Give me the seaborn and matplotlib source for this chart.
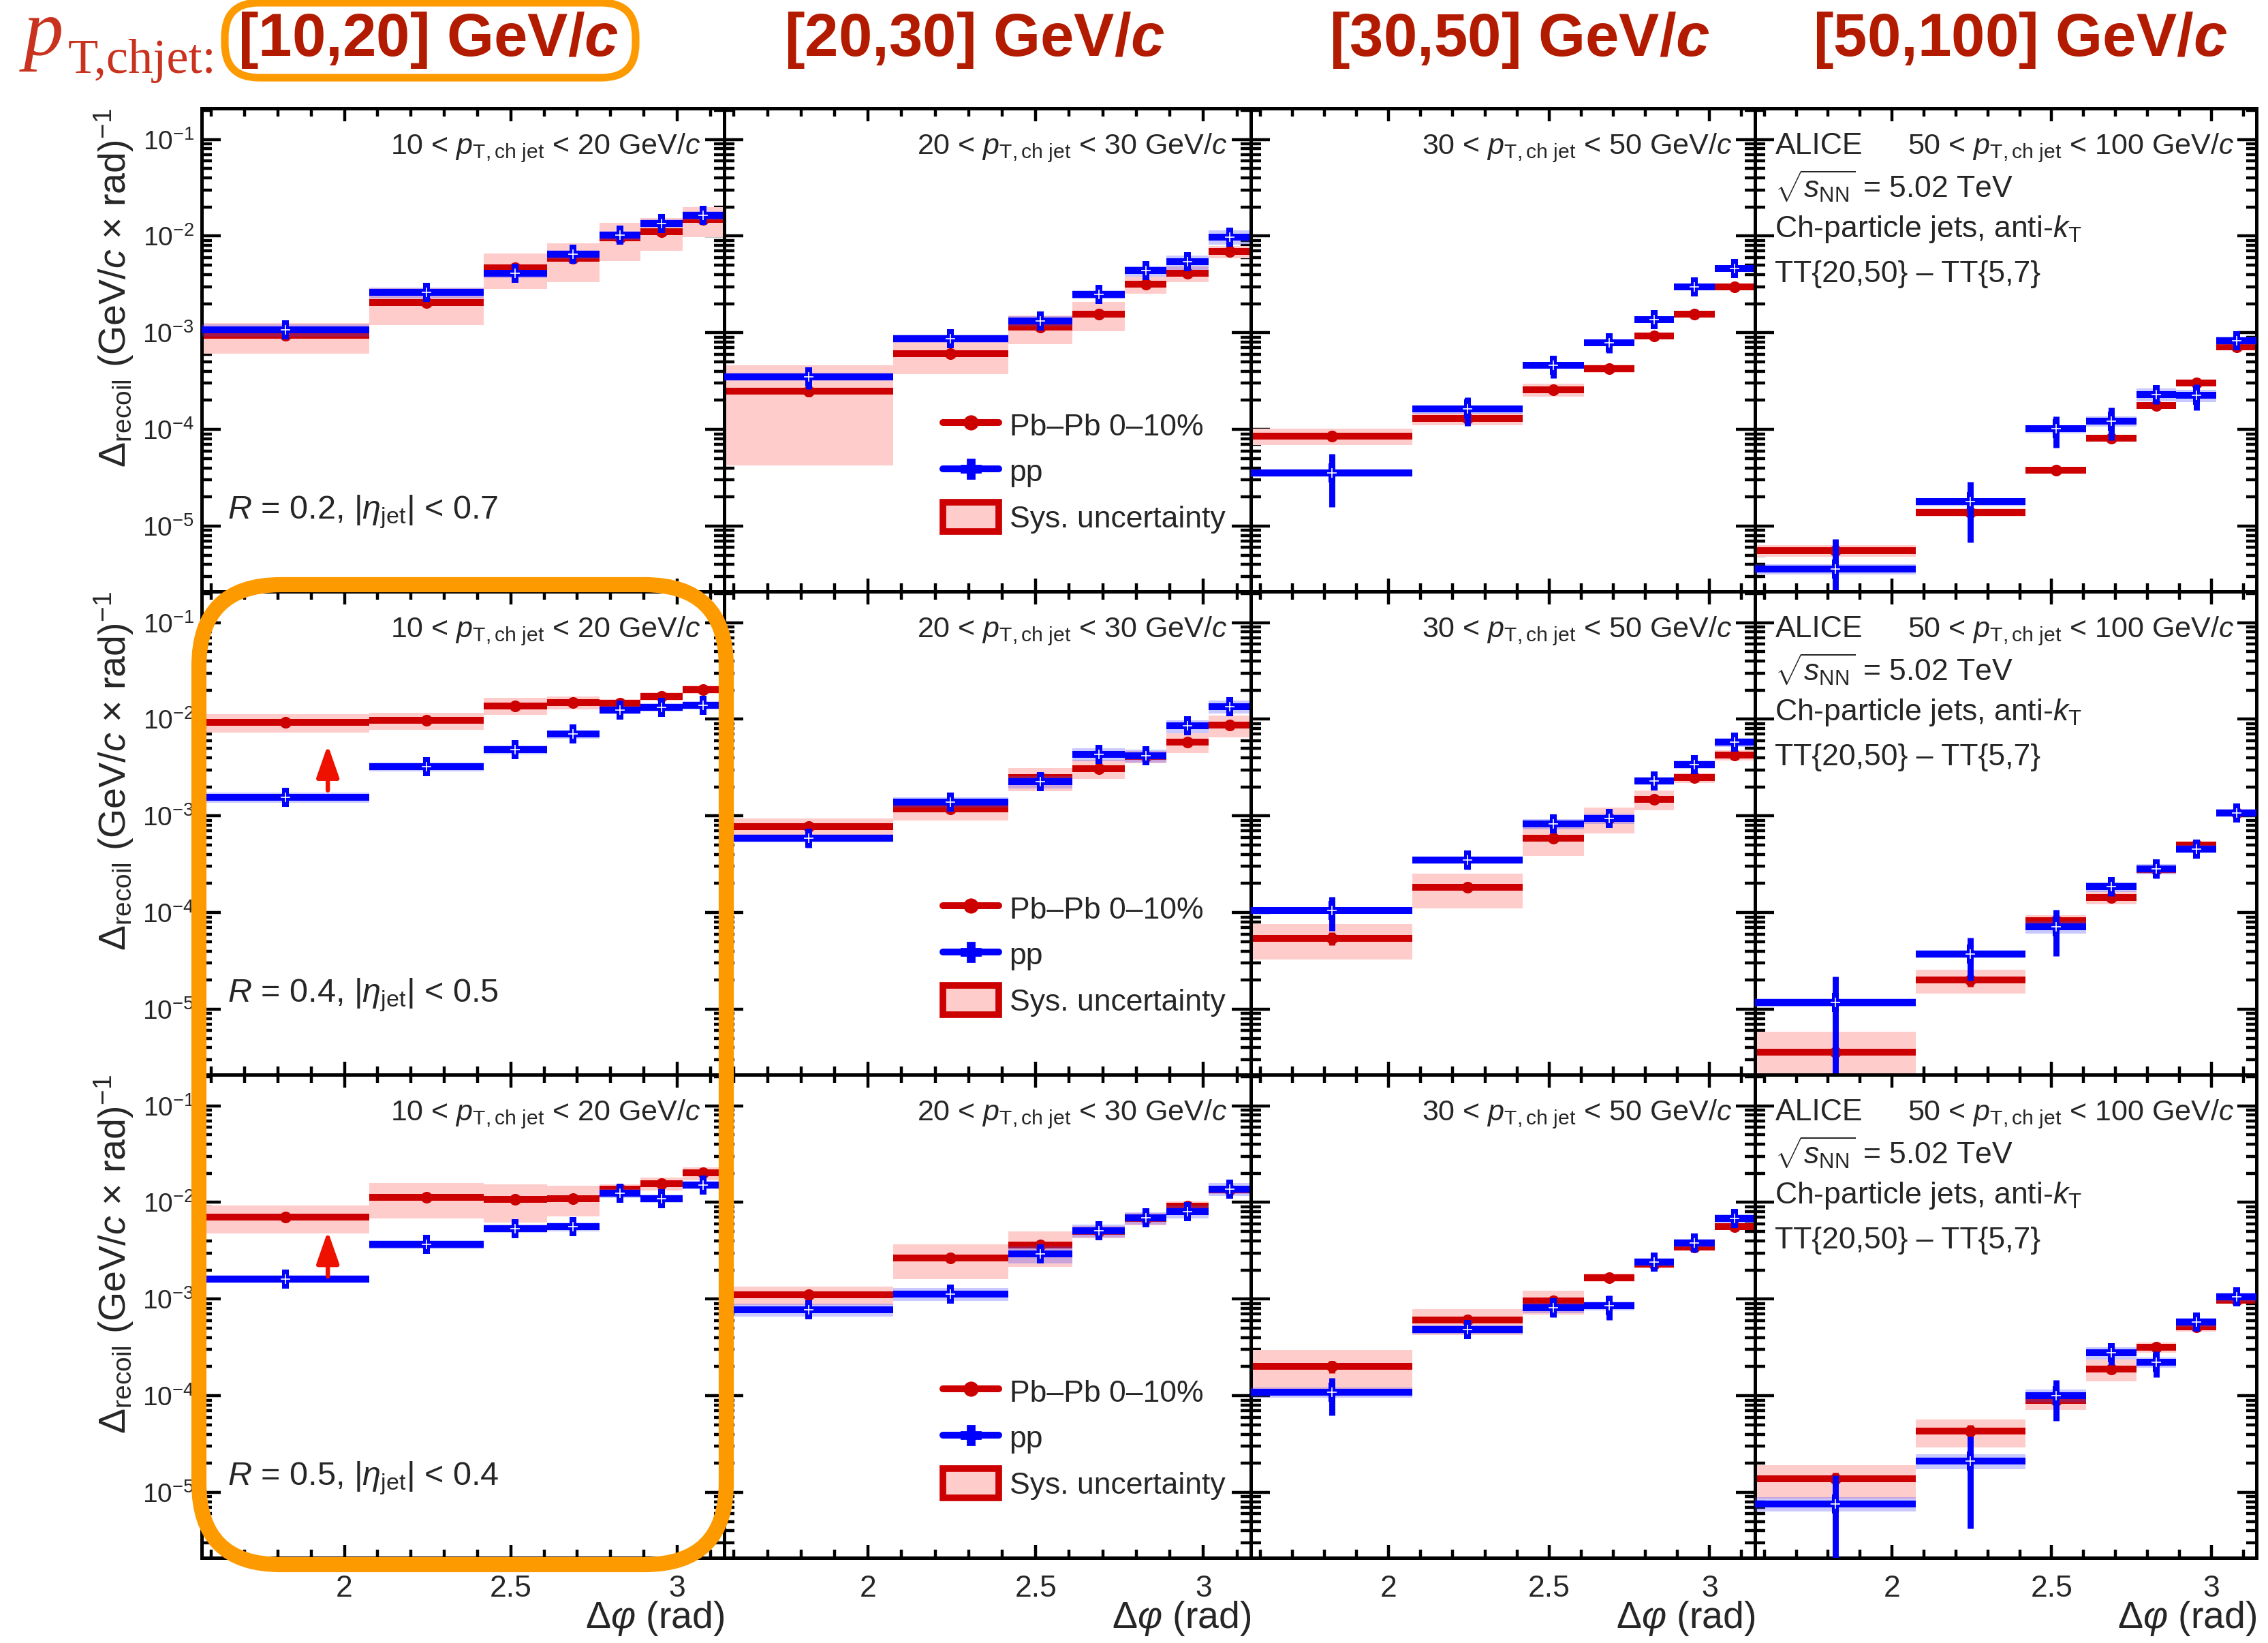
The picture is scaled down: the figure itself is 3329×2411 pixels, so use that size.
import numpy as np
import pandas as pd
import seaborn as sns
import matplotlib
matplotlib.use("Agg")
import matplotlib.pyplot as plt
from matplotlib.lines import Line2D
from matplotlib.patches import Patch, FancyBboxPatch
from matplotlib.ticker import MultipleLocator, LogLocator, NullFormatter, FuncFormatter

# ---- data ----
DPHI_EDGES = [np.pi / 2, 2.074, 2.418, 2.609, 2.766, 2.890, 3.016, np.pi]
PT_LO = [10, 20, 30, 50]
PT_HI = [20, 30, 50, 100]
HEADERS = ["[10,20] GeV/", "[20,30] GeV/", "[30,50] GeV/", "[50,100] GeV/"]
R_LABELS = [r"$R$ = 0.2, |$\eta_{\rm jet}$| < 0.7",
            r"$R$ = 0.4, |$\eta_{\rm jet}$| < 0.5",
            r"$R$ = 0.5, |$\eta_{\rm jet}$| < 0.4"]

# R = 0.2
pbpb_r02 = [[0.94e-3, 2.05e-3, 4.7e-3, 5.9e-3, 9.6e-3, 1.12e-2, 1.49e-2],
            [2.5e-4, 6.1e-4, 1.14e-3, 1.56e-3, 3.16e-3, 4.1e-3, 6.9e-3],
            [8.5e-5, 1.29e-4, 2.57e-4, 4.26e-4, 9.3e-4, 1.56e-3, 2.97e-3],
            [5.6e-6, 1.39e-5, 3.8e-5, 8.1e-5, 1.76e-4, 3.03e-4, 7.1e-4]]
pp_r02 = [[1.07e-3, 2.6e-3, 4.1e-3, 6.5e-3, 1.02e-2, 1.36e-2, 1.64e-2],
          [3.5e-4, 8.7e-4, 1.32e-3, 2.48e-3, 4.4e-3, 5.4e-3, 9.8e-3],
          [3.56e-5, 1.62e-4, 4.6e-4, 7.9e-4, 1.37e-3, 2.97e-3, 4.6e-3],
          [3.57e-6, 1.78e-5, 1.01e-4, 1.22e-4, 2.29e-4, 2.24e-4, 8.3e-4]]
pbpb_sys_r02 = [[0.35, 0.41, 0.40, 0.43, 0.42, 0.37, 0.34],
                [0.83, 0.39, 0.33, 0.33, 0.20, 0.19, 0.15],
                [0.19, 0.14, 0.15, 0.10, 0.08, 0.08, 0.06],
                [0.14, 0.10, 0.08, 0.08, 0.07, 0.07, 0.06]]
pp_sys_r02 = [[0.15, 0.13, 0.10, 0.10, 0.10, 0.10, 0.10],
              [0.10, 0.10, 0.12, 0.10, 0.13, 0.17, 0.17],
              [0.10, 0.10, 0.08, 0.08, 0.06, 0.06, 0.06],
              [0.12, 0.10, 0.10, 0.12, 0.15, 0.15, 0.10]]
pbpb_stat_r02 = [[0.08, 0.08, 0.08, 0.08, 0.06, 0.06, 0.05],
                 [0.12, 0.10, 0.08, 0.08, 0.06, 0.06, 0.05],
                 [0.10, 0.10, 0.08, 0.08, 0.06, 0.06, 0.05],
                 [0.12, 0.15, 0.10, 0.10, 0.08, 0.08, 0.06]]
pp_stat_r02 = [[0.10, 0.08, 0.10, 0.08, 0.08, 0.08, 0.08],
               [0.26, 0.17, 0.15, 0.10, 0.10, 0.10, 0.08],
               [0.56, 0.33, 0.26, 0.22, 0.15, 0.12, 0.10],
               [1.05, 0.62, 0.36, 0.37, 0.20, 0.30, 0.10]]

# R = 0.4
pbpb_r04 = [[9.3e-3, 9.7e-3, 1.38e-2, 1.49e-2, 1.46e-2, 1.73e-2, 2.04e-2],
            [7.8e-4, 1.19e-3, 2.48e-3, 3.1e-3, 4.1e-3, 5.85e-3, 8.7e-3],
            [5.4e-5, 1.82e-4, 5.9e-4, 9.4e-4, 1.49e-3, 2.48e-3, 4.28e-3],
            [3.6e-6, 2.0e-5, 8.2e-5, 1.43e-4, 2.8e-4, 4.97e-4, 1.08e-3]]
pp_r04 = [[1.55e-3, 3.22e-3, 4.85e-3, 7.0e-3, 1.25e-2, 1.33e-2, 1.40e-2],
          [5.9e-4, 1.38e-3, 2.25e-3, 4.35e-3, 4.2e-3, 8.5e-3, 1.36e-2],
          [1.05e-4, 3.47e-4, 8.3e-4, 9.4e-4, 2.3e-3, 3.42e-3, 5.77e-3],
          [1.17e-5, 3.72e-5, 7.1e-5, 1.86e-4, 2.84e-4, 4.55e-4, 1.08e-3]]
pbpb_sys_r04 = [[0.22, 0.20, 0.20, 0.15, 0.10, 0.10, 0.10],
                [0.20, 0.25, 0.27, 0.22, 0.15, 0.23, 0.25],
                [0.40, 0.39, 0.35, 0.30, 0.23, 0.12, 0.12],
                [0.63, 0.28, 0.15, 0.15, 0.10, 0.08, 0.08]]
pp_sys_r04 = [[0.12, 0.10, 0.10, 0.10, 0.10, 0.10, 0.10],
              [0.10, 0.12, 0.15, 0.15, 0.15, 0.15, 0.15],
              [0.08, 0.08, 0.12, 0.12, 0.10, 0.10, 0.10],
              [0.10, 0.10, 0.15, 0.12, 0.12, 0.10, 0.10]]
pbpb_stat_r04 = [[0.08, 0.08, 0.06, 0.06, 0.06, 0.05, 0.05],
                 [0.10, 0.10, 0.08, 0.08, 0.06, 0.06, 0.05],
                 [0.15, 0.10, 0.08, 0.08, 0.06, 0.06, 0.05],
                 [0.20, 0.15, 0.10, 0.10, 0.08, 0.06, 0.05]]
pp_stat_r04 = [[0.10, 0.10, 0.10, 0.08, 0.10, 0.10, 0.10],
               [0.20, 0.12, 0.15, 0.12, 0.12, 0.10, 0.08],
               [0.385, 0.20, 0.12, 0.15, 0.10, 0.10, 0.08],
               [0.85, 0.47, 0.50, 0.20, 0.20, 0.10, 0.06]]

# R = 0.5
pbpb_r05 = [[7.06e-3, 1.13e-2, 1.08e-2, 1.10e-2, 1.38e-2, 1.57e-2, 2.01e-2],
            [1.11e-3, 2.65e-3, 3.6e-3, 5.0e-3, 6.8e-3, 9.2e-3, 1.35e-2],
            [2.0e-4, 6.1e-4, 9.6e-4, 1.67e-3, 2.3e-3, 3.47e-3, 5.64e-3],
            [1.38e-5, 4.3e-5, 8.9e-5, 1.88e-4, 3.18e-4, 5.16e-4, 9.75e-4]]
pp_r05 = [[1.61e-3, 3.68e-3, 5.36e-3, 5.6e-3, 1.24e-2, 1.10e-2, 1.52e-2],
          [7.8e-4, 1.13e-3, 2.94e-3, 5.1e-3, 6.9e-3, 8.07e-3, 1.37e-2],
          [1.08e-4, 4.87e-4, 8.1e-4, 8.5e-4, 2.43e-3, 3.83e-3, 6.8e-3],
          [7.6e-6, 2.11e-5, 1.0e-4, 2.78e-4, 2.22e-4, 5.78e-4, 1.05e-3]]
pbpb_sys_r05 = [[0.32, 0.40, 0.43, 0.35, 0.12, 0.15, 0.15],
                [0.22, 0.39, 0.40, 0.15, 0.15, 0.12, 0.10],
                [0.48, 0.30, 0.28, 0.10, 0.10, 0.08, 0.08],
                [0.38, 0.32, 0.20, 0.25, 0.12, 0.10, 0.08]]
pp_sys_r05 = [[0.10, 0.10, 0.10, 0.10, 0.10, 0.10, 0.10],
              [0.15, 0.15, 0.20, 0.15, 0.15, 0.15, 0.15],
              [0.12, 0.12, 0.12, 0.10, 0.10, 0.10, 0.10],
              [0.17, 0.18, 0.15, 0.15, 0.12, 0.10, 0.10]]
pbpb_stat_r05 = [[0.08, 0.08, 0.08, 0.08, 0.06, 0.06, 0.05],
                 [0.10, 0.08, 0.08, 0.08, 0.06, 0.06, 0.05],
                 [0.15, 0.10, 0.08, 0.08, 0.06, 0.06, 0.05],
                 [0.15, 0.15, 0.10, 0.10, 0.08, 0.06, 0.05]]
pp_stat_r05 = [[0.10, 0.10, 0.10, 0.10, 0.10, 0.10, 0.10],
               [0.17, 0.15, 0.15, 0.10, 0.10, 0.10, 0.08],
               [0.42, 0.20, 0.20, 0.29, 0.10, 0.10, 0.10],
               [0.96, 0.80, 0.45, 0.25, 0.30, 0.15, 0.10]]

# red arrows (lowest pT bin, R = 0.4 and 0.5)
ARROW_X = 1.95
ARROW_TAIL = [None, 1.84e-3, 1.71e-3]
ARROW_TIP = [None, 5.43e-3, 5.05e-3]

ROWS = [
    (pbpb_r02, pp_r02, pbpb_sys_r02, pp_sys_r02, pbpb_stat_r02, pp_stat_r02),
    (pbpb_r04, pp_r04, pbpb_sys_r04, pp_sys_r04, pbpb_stat_r04, pp_stat_r04),
    (pbpb_r05, pp_r05, pbpb_sys_r05, pp_sys_r05, pbpb_stat_r05, pp_stat_r05),
]

# ---- style ----
sns.set_theme(style="ticks")
plt.rcParams["font.family"] = ["Liberation Sans", "DejaVu Sans"]
plt.rcParams["mathtext.fontset"] = "custom"
plt.rcParams["mathtext.rm"] = "Liberation Sans"
plt.rcParams["mathtext.it"] = "Liberation Sans:italic"
plt.rcParams["mathtext.bf"] = "Liberation Sans:bold"
plt.rcParams["mathtext.bfit"] = "Liberation Sans:italic:bold"
plt.rcParams["axes.unicode_minus"] = True

RED = "#cc0000"
BLUE = "#0000ff"
PINK = "#ffcccc"
PP_BAND = (0.3, 0.3, 1.0, 0.3)
ORANGE = "#fd9a00"
HEAD_RED = "#b31b00"

fig = plt.figure(figsize=(16.65, 12.055), dpi=200)
gs = fig.add_gridspec(3, 4, left=296 / 3330, right=3312 / 3330,
                      top=1 - 159 / 2411, bottom=1 - 2286 / 2411,
                      wspace=0, hspace=0, width_ratios=[767, 773, 740, 736])

lo = np.array(DPHI_EDGES[:-1])
hi = np.array(DPHI_EDGES[1:])
xc = (lo + hi) / 2
wid = hi - lo


def draw_series(ax, vals, sys, stat, color, band, z, marker):
    vals = np.array(vals)
    sys = np.array(sys)
    stat = np.array(stat)
    blo = np.clip(vals * (1 - sys), 1e-8, None)
    ax.bar(xc, vals * (1 + sys) - blo, bottom=blo, width=wid, color=band,
           linewidth=0, zorder=z)
    ax.hlines(vals, lo, hi, color=color, lw=3.6, zorder=z + 1)
    ax.vlines(xc, np.clip(vals * (1 - stat), 1e-8, None), vals * (1 + stat),
              color=color, lw=3.2, zorder=z + 1)
    df = pd.DataFrame({"dphi": xc, "val": vals})
    if marker == "o":
        sns.scatterplot(data=df, x="dphi", y="val", marker="o", color=color,
                        s=38, linewidth=0, ax=ax, zorder=z + 2)
    else:
        sns.scatterplot(data=df, x="dphi", y="val", marker="P", color=color,
                        s=95, linewidth=0, ax=ax, zorder=z + 2)
        ax.plot(xc, vals, ls="none", marker="+", mec="white", ms=5, mew=0.6,
                zorder=z + 3)


for r in range(3):
    pbpb, pp, pbpb_sys, pp_sys, pbpb_stat, pp_stat = ROWS[r]
    for c in range(4):
        ax = fig.add_subplot(gs[r, c])
        ax.set_yscale("log")
        draw_series(ax, pbpb[c], pbpb_sys[c], pbpb_stat[c], RED, PINK, 1, "o")
        draw_series(ax, pp[c], pp_sys[c], pp_stat[c], BLUE, PP_BAND, 5, "P")

        ax.set_xlim(np.pi / 2, np.pi)
        ax.set_ylim(2.1e-6, 0.21)
        ax.set_xlabel("")
        ax.set_ylabel("")
        ax.xaxis.set_major_locator(MultipleLocator(0.5))
        ax.xaxis.set_minor_locator(MultipleLocator(0.1))
        ax.xaxis.set_major_formatter(FuncFormatter(lambda v, p: f"{v:g}"))
        ax.yaxis.set_major_locator(LogLocator(base=10, numticks=20))
        ax.yaxis.set_minor_locator(LogLocator(base=10, subs=np.arange(2, 10), numticks=20))
        ax.yaxis.set_minor_formatter(NullFormatter())
        ax.tick_params(which="both", direction="in", top=True, right=True,
                       width=1.6, color="black")
        ax.tick_params(axis="x", which="major", length=7, labelsize=16, pad=9)
        ax.tick_params(axis="x", which="minor", length=4.2)
        ax.tick_params(axis="y", which="major", length=10, labelsize=14, pad=4)
        ax.tick_params(axis="y", which="minor", length=5.5)
        if c > 0:
            ax.tick_params(labelleft=False)
        if r < 2:
            ax.tick_params(labelbottom=False)
        for sp in ax.spines.values():
            sp.set_linewidth(1.8)
            sp.set_color("black")

        title = f"{PT_LO[c]} < " + r"$p_{\rm T,ch\ jet}$" + f" < {PT_HI[c]} GeV/" + r"$c$"
        ax.text(0.955, 0.905, title, transform=ax.transAxes, ha="right",
                va="baseline", fontsize=15.5)

        if c == 0:
            ax.text(0.05, 0.15, R_LABELS[r], transform=ax.transAxes, ha="left",
                    va="baseline", fontsize=17.5)
            ax.text(-0.168, 1.0, r"$\Delta_{\rm recoil}$ (GeV/$c$ $\times$ rad)$^{-1}$",
                    transform=ax.transAxes, rotation=90, rotation_mode="anchor",
                    ha="right", va="center", fontsize=20)
            if ARROW_TAIL[r] is not None:
                ax.annotate("", xy=(ARROW_X, ARROW_TIP[r]), xytext=(ARROW_X, ARROW_TAIL[r]),
                            arrowprops=dict(arrowstyle="-|>,head_length=0.8,head_width=0.28",
                                            color="#ee1100", lw=2.3, shrinkA=0, shrinkB=0,
                                            mutation_scale=18), zorder=12)
        if c == 1:
            handles = [Line2D([], [], color=RED, lw=3.6, marker="o", ms=7, mec=RED),
                       Line2D([], [], color=BLUE, lw=3.6, marker="P", ms=10, mec=BLUE),
                       Patch(facecolor=PINK, edgecolor=RED, lw=3.5)]
            ax.legend(handles, ["Pb\u2013Pb 0\u201310%", "pp", "Sys. uncertainty"],
                      loc="upper left", bbox_to_anchor=(0.415, 0.375), frameon=False,
                      fontsize=16, handlelength=1.85, handleheight=1.1,
                      handletextpad=0.35, labelspacing=0.5, borderaxespad=0,
                      borderpad=0)
        if c == 3:
            ax.text(0.04, 0.905, "ALICE", transform=ax.transAxes, ha="left",
                    va="baseline", fontsize=16)
            ax.text(0.04, 0.815, r"$\sqrt{s_{\rm NN}}$ = 5.02 TeV", transform=ax.transAxes,
                    ha="left", va="baseline", fontsize=16)
            ax.text(0.04, 0.733, r"Ch-particle jets, anti-$k_{\rm T}$", transform=ax.transAxes,
                    ha="left", va="baseline", fontsize=16)
            ax.text(0.04, 0.641, "TT{20,50} \u2013 TT{5,7}", transform=ax.transAxes,
                    ha="left", va="baseline", fontsize=16)
        if r == 2:
            ax.text(1.0, -0.125, r"$\Delta\varphi$ (rad)", transform=ax.transAxes,
                    ha="right", va="center", fontsize=20)

# ---- column headers ----
header_x = [628, 1430, 2230, 2965]
for c in range(4):
    fig.text(header_x[c] / 3330, 1 - 82 / 2411, HEADERS[c] + r"$\mathbfit{c}$",
             ha="center", va="baseline", fontsize=32, fontweight="bold", color=HEAD_RED)
fig.text(35 / 3330, 1 - 80 / 2411, "p", family="Liberation Serif", style="italic",
         fontsize=42, color="#c8321e", ha="left", va="baseline")
fig.text(100 / 3330, 1 - 107 / 2411, "T,chjet:", family="Liberation Serif",
         fontsize=26, color="#c8321e", ha="left", va="baseline")

# ---- orange highlight boxes ----
fig.add_artist(FancyBboxPatch((1.46, 0.575), 5.33 - 1.46, 7.765 - 0.575,
                              boxstyle="round,pad=0,rounding_size=0.6",
                              transform=fig.dpi_scale_trans, fill=False,
                              ec=ORANGE, lw=8, zorder=20))
fig.add_artist(FancyBboxPatch((1.65, 11.485), 4.665 - 1.65, 12.035 - 11.485,
                              boxstyle="round,pad=0,rounding_size=0.25",
                              transform=fig.dpi_scale_trans, fill=False,
                              ec=ORANGE, lw=4, zorder=20))

fig.savefig("out.png", dpi=200)
